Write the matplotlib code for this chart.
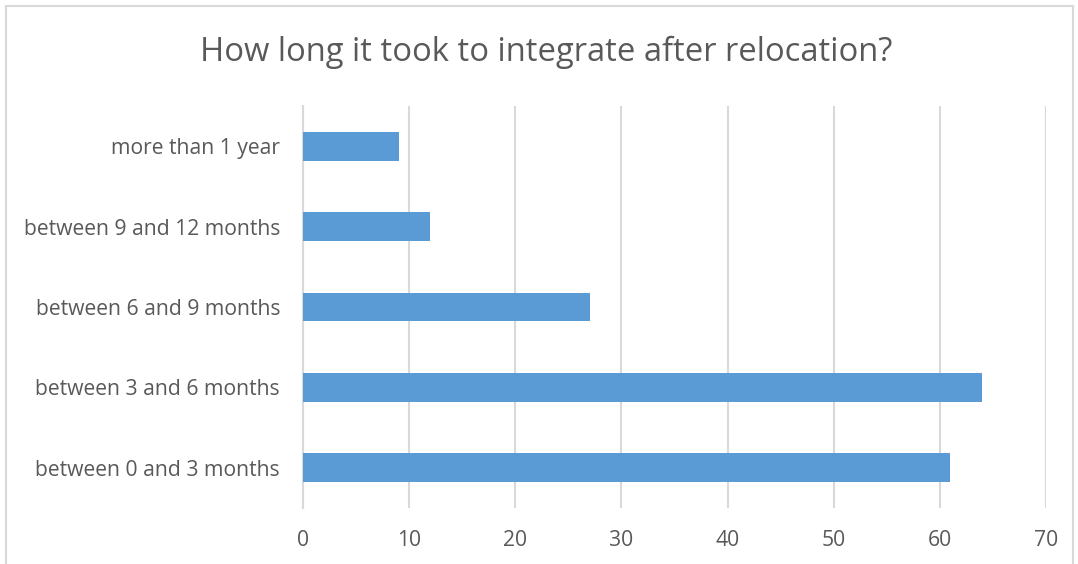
import matplotlib.pyplot as plt
from matplotlib.patches import Rectangle

categories = [
    "between 0 and 3 months",
    "between 3 and 6 months",
    "between 6 and 9 months",
    "between 9 and 12 months",
    "more than 1 year",
]
counts = [61, 64, 27, 12, 9]
xticks = [0, 10, 20, 30, 40, 50, 60, 70]

plt.rcParams["font.family"] = ["Open Sans", "DejaVu Sans"]
text_color = "#595959"
grid_color = "#D9D9D9"

fig = plt.figure(figsize=(10.78, 5.64), dpi=100)
ax = fig.add_axes([303 / 1078, 1 - 508 / 564, 743 / 1078, 402 / 564])

ax.barh(range(len(categories)), counts, height=0.356, color="#5B9BD5", zorder=3)
ax.set_ylim(-0.5, len(categories) - 0.5)
ax.set_xlim(0, 70)
ax.set_xticks(xticks)
ax.set_yticks(range(len(categories)))
ax.set_yticklabels(categories)
ax.tick_params(axis="both", length=0, labelsize=15.2, colors=text_color)
ax.tick_params(axis="x", pad=16)
ax.tick_params(axis="y", pad=16.5)
ax.grid(axis="x", color=grid_color, linewidth=1.5, zorder=0)
for side in ["top", "right", "bottom"]:
    ax.spines[side].set_visible(False)
ax.spines["left"].set_color(grid_color)
ax.spines["left"].set_linewidth(1.5)

fig.text(546 / 1078, 1 - 52 / 564, "How long it took to integrate after relocation?",
         ha="center", va="center", fontsize=23.6, color=text_color)

fig.patches.append(Rectangle((6 / 1078, -0.1), 1067 / 1078, 1.1 - 6 / 564,
                             transform=fig.transFigure, fill=False,
                             edgecolor=grid_color, linewidth=1.5))

fig.savefig("out.png", dpi=100, facecolor="w")
